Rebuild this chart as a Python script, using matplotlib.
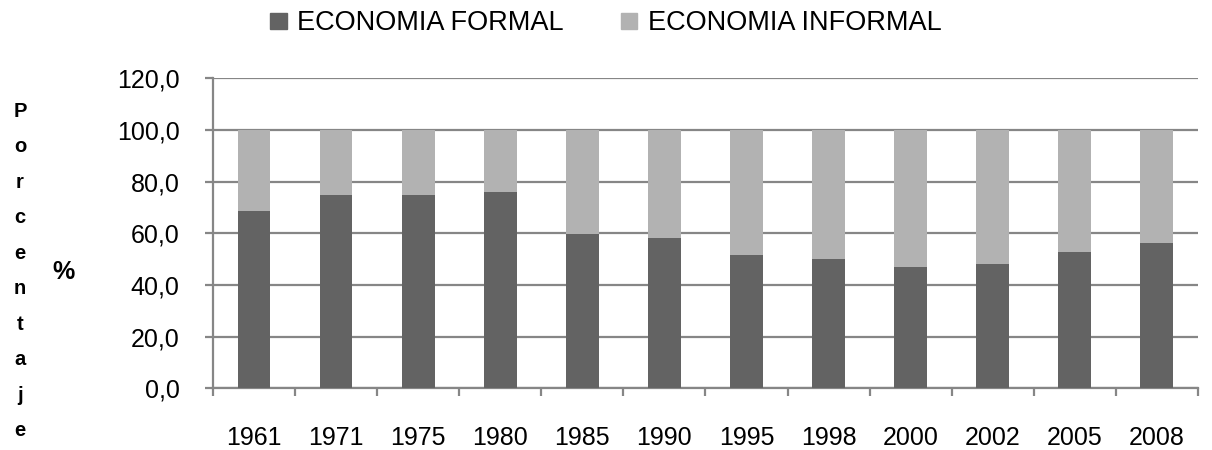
import numpy as np
import matplotlib
matplotlib.use("Agg")
import matplotlib.pyplot as plt
from matplotlib.patches import Patch

plt.rcParams['font.family'] = ['Liberation Sans', 'DejaVu Sans']

# datos
years = ['1961', '1971', '1975', '1980', '1985', '1990',
         '1995', '1998', '2000', '2002', '2005', '2008']
formal = [68.8, 74.8, 74.8, 76.0, 59.6, 58.3, 51.6, 50.2, 47.0, 48.2, 52.9, 56.3]
informal = [round(100 - v, 1) for v in formal]
yticks = [0, 20, 40, 60, 80, 100, 120]

c_formal = '#636363'
c_informal = '#b2b2b2'
c_grid = '#868686'

fig = plt.figure(figsize=(12.12, 4.5), dpi=100)
ax = fig.add_axes([0.1757, 0.137, 0.8127, 0.6886])

x = np.arange(len(years))
ax.bar(x, formal, width=0.4, color=c_formal, zorder=3)
ax.bar(x, informal, width=0.4, bottom=formal, color=c_informal, zorder=3)

ax.set_xlim(-0.5, len(years) - 0.5)
ax.set_ylim(0, 120)
ax.set_yticks(yticks)
ax.set_yticklabels([f'{v:.1f}'.replace('.', ',') for v in yticks])
ax.yaxis.grid(True, color=c_grid, linewidth=1.6, zorder=0)

# marcas del eje x en los limites de categoria, etiquetas en el centro
ax.set_xticks(np.arange(-0.5, len(years)))
ax.set_xticklabels([])
ax.set_xticks(x, minor=True)
ax.set_xticklabels(years, minor=True)
ax.tick_params(axis='x', which='major', direction='out', length=6,
               width=1.6, color=c_grid)
ax.tick_params(axis='x', which='minor', length=0, pad=27, labelsize=18)
ax.tick_params(axis='y', direction='out', length=6, width=1.6,
               color=c_grid, pad=18, labelsize=18)

for s in ['top', 'right']:
    ax.spines[s].set_visible(False)
for s in ['left', 'bottom']:
    ax.spines[s].set_color(c_grid)
    ax.spines[s].set_linewidth(1.6)

# etiqueta vertical letra por letra
fig.text(0.0165, 0.398, '\n'.join('Porcentaje'), ha='center', va='center',
         fontsize=14.5, fontweight='bold', linespacing=2.1)
fig.text(0.052, 0.395, '%', ha='center', va='center',
         fontsize=18, fontweight='bold')

handles = [Patch(color=c_formal, label='ECONOMIA FORMAL'),
           Patch(color=c_informal, label='ECONOMIA INFORMAL')]
fig.legend(handles=handles, loc='center', bbox_to_anchor=(0.5, 0.948),
           ncol=2, frameon=False, fontsize=19.5, handlelength=0.6,
           handleheight=0.55, handletextpad=0.4, columnspacing=2.1,
           borderpad=0)

fig.savefig('out.png', dpi=100)
